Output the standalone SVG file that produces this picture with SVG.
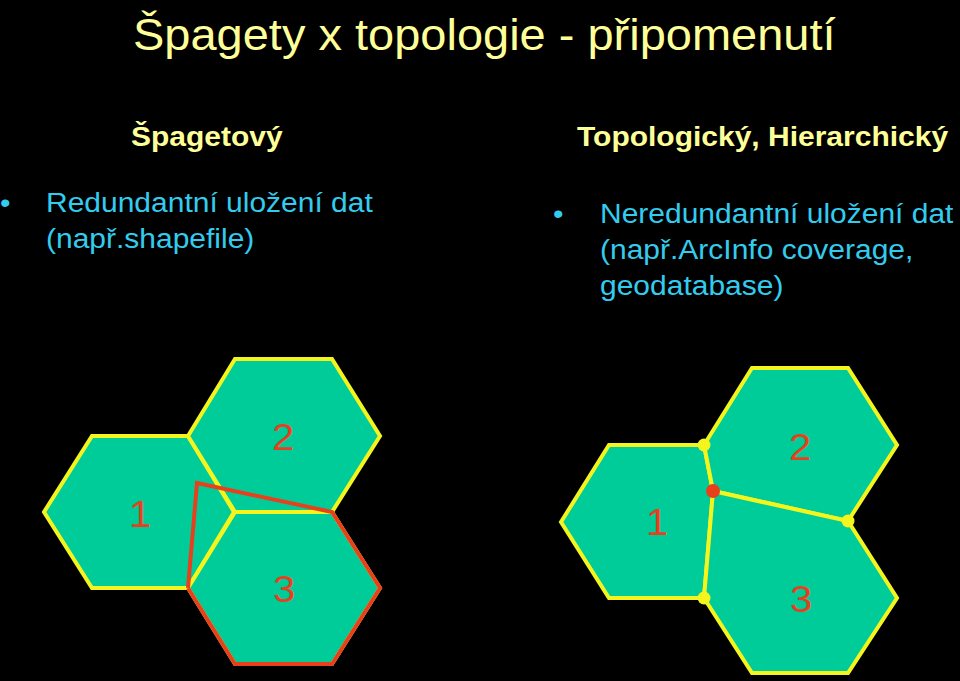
<svg xmlns="http://www.w3.org/2000/svg" width="960" height="681" viewBox="0 0 960 681">
<style>
  text { font-family: "Liberation Sans", Arial, sans-serif; }
  .title { fill: #FFFF99; font-size: 47px; }
  .head { fill: #FFFF99; font-size: 30px; font-weight: bold; }
  .body { fill: #33CCEE; font-size: 30px; }
  .num { fill: #E8401C; font-size: 40px; text-anchor: middle; }
  .hex { fill: #00CC99; stroke: #F5F51E; stroke-width: 4; stroke-linejoin: miter; }
  .red { fill: none; stroke: #E8401C; stroke-width: 4; stroke-linejoin: miter; }
</style>
<rect x="0" y="0" width="960" height="681" fill="#000000"/>

<g id="texts">
  <text class="title" transform="translate(133,50) scale(1,0.946)">Špagety x topologie - připomenutí</text>
  <text class="head" transform="translate(131,146) scale(1,0.946)">Špagetový</text>
  <text class="head" transform="translate(577,146) scale(1,0.946)">Topologický, Hierarchický</text>
  <text class="body" transform="translate(0,212) scale(1,0.946)">•</text>
  <text class="body" transform="translate(46,212) scale(1,0.946)">Redundantní uložení dat</text>
  <text class="body" transform="translate(46,248) scale(1,0.946)">(např.shapefile)</text>
  <text class="body" transform="translate(553,223) scale(1,0.946)">•</text>
  <text class="body" transform="translate(600,223) scale(1,0.946)">Neredundantní uložení dat</text>
  <text class="body" transform="translate(600,259) scale(1,0.946)">(např.ArcInfo coverage,</text>
  <text class="body" transform="translate(600,295) scale(1,0.946)">geodatabase)</text>
</g>

<!-- Left: spaghetti model -->
<g id="spag-hex1">
  <polygon class="hex" points="44,512 92,436 188,436 234,512 188,588 92,588"/>
  <text class="num" transform="translate(140,527) scale(1,0.946)">1</text>
</g>
<g id="spag-hex2">
  <polygon class="hex" points="188,436 235,359 332,359 380,436 332,512 235,512"/>
  <text class="num" transform="translate(283,450) scale(1,0.946)">2</text>
</g>
<g id="spag-hex3">
  <polygon class="hex" points="235,512 332,512 380,588 332,664 235,664 188,588"/>
  <text class="num" transform="translate(284,602) scale(1,0.946)">3</text>
</g>

<!-- Right: topological model -->
<g id="topo-hex1">
  <polygon class="hex" points="561,522 609,445 704,445 713,491 704,598 609,598"/>
  <text class="num" transform="translate(657,535) scale(1,0.946)">1</text>
</g>
<g id="topo-hex2">
  <polygon class="hex" points="704,445 752,368 848,368 897,445 848,521 713,491"/>
  <text class="num" transform="translate(800,460) scale(1,0.946)">2</text>
</g>
<g id="topo-hex3">
  <polygon class="hex" points="713,491 848,521 897,598 848,673 752,673 704,598"/>
  <text class="num" transform="translate(801,612) scale(1,0.946)">3</text>
</g>

<g id="connectors">
  <polyline class="red" points="188,588 197,483 332,512 380,588 332,664 235,664 188,588"/>
  <circle cx="704" cy="445" r="6.5" fill="#F5F51E"/>
  <circle cx="848" cy="521" r="6.5" fill="#F5F51E"/>
  <circle cx="704" cy="598" r="6.5" fill="#F5F51E"/>
  <circle cx="713" cy="491" r="7" fill="#E8401C"/>
</g>
</svg>
